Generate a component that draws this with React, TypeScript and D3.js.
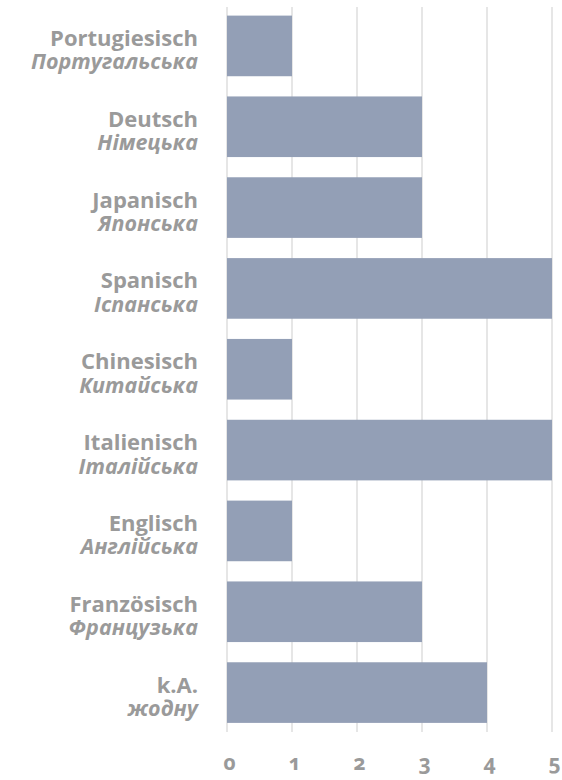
import React from "react";
import * as d3 from "d3";

const germanLabels = ["Portugiesisch", "Deutsch", "Japanisch", "Spanisch", "Chinesisch", "Italienisch", "Englisch", "Französisch", "k.A."];
const ukrainianLabels = ["Португальська", "Німецька", "Японська", "Іспанська", "Китайська", "Італійська", "Англійська", "Французька", "жодну"];
const values = [1, 3, 3, 5, 1, 5, 1, 3, 4];
const tickValues = [0, 1, 2, 3, 4, 5];

const W = 562;
const H = 780;

export default function App() {
  const x = d3.scaleLinear().domain([0, 5]).range([227, 552]);
  const y = d3
    .scaleBand<number>()
    .domain(d3.range(values.length))
    .range([5.5, 733])
    .paddingInner(0.25)
    .paddingOuter(0.125);
  const font = "'Open Sans', 'Noto Sans', sans-serif";
  const gray = "#9a9a9a";
  return (
    <svg width={W} height={H} style={{ position: "absolute", left: 0, top: 0, background: "#fff" }}>
      {tickValues.map((t) => (
        <line key={"g" + t} x1={x(t)} x2={x(t)} y1={7} y2={732} stroke="#dedede" strokeWidth={1.5} />
      ))}
      {values.map((v, i) => (
        <rect key={"b" + i} x={x(0)} y={y(i)!} width={x(v) - x(0)} height={y.bandwidth()} fill="#939fb6" />
      ))}
      {values.map((v, i) => {
        const cy = y(i)! + y.bandwidth() / 2;
        return (
          <g key={"l" + i} fontFamily={font} fontWeight={700} fill={gray} textAnchor="end">
            <text x={198} y={cy} fontSize={22}>{germanLabels[i]}</text>
            <text x={198} y={cy + 23.5} fontSize={21.5} fontStyle="italic">{ukrainianLabels[i]}</text>
          </g>
        );
      })}
      {tickValues.map((t) => (
        <text key={"t" + t} x={x(t) + 2.5} y={770} textAnchor="middle" fontFamily="'Noto Sans', 'Open Sans', sans-serif" fontWeight={700} fontSize={21} fill={gray} style={{ fontFeatureSettings: "'onum' 1", fontVariantNumeric: "oldstyle-nums" }}>
          {t}
        </text>
      ))}
    </svg>
  );
}
